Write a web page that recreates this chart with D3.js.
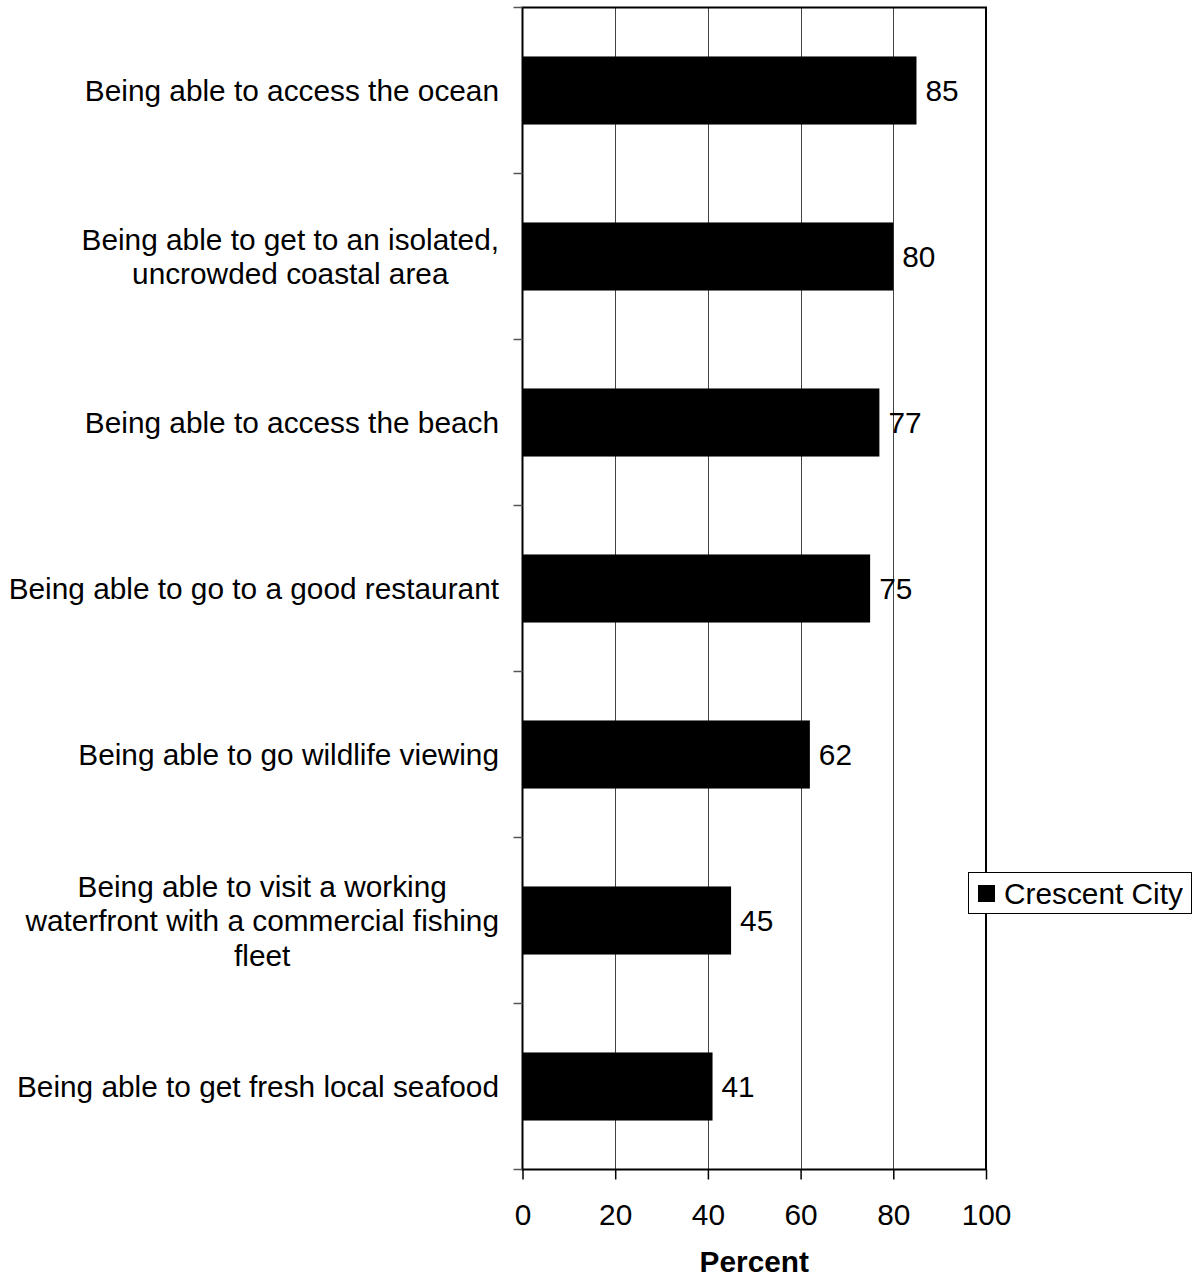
<!DOCTYPE html>
<html><head><meta charset="utf-8">
<script src="https://cdn.jsdelivr.net/npm/d3@7"></script>
<style>body{margin:0;background:#fff}svg{display:block}text{font-family:"Liberation Sans",Arial,sans-serif;fill:#000}</style>
</head><body>
<script>
const categories = [
  ["Being able to access the ocean"],
  ["Being able to get to an isolated,", "uncrowded coastal area"],
  ["Being able to access the beach"],
  ["Being able to go to a good restaurant"],
  ["Being able to go wildlife viewing"],
  ["Being able to visit a working", "waterfront with a commercial fishing", "fleet"],
  ["Being able to get fresh local seafood"]
];
const values = [85, 80, 77, 75, 62, 45, 41];
const xTicks = [0, 20, 40, 60, 80, 100];
const seriesName = "Crescent City";
const axisTitle = "Percent";

const W = 1198, H = 1278;
const L = 522.5, R = 986, T = 7.5, B = 1169.5;
const FS = 29.8;

const svg = d3.select("body").append("svg").attr("width", W).attr("height", H);
const x = d3.scaleLinear().domain([0, 100]).range([L, R]);
const y = d3.scaleBand().domain(d3.range(categories.length)).range([T, B]).paddingInner(0.59).paddingOuter(0.295);

// gridlines
svg.append("g").selectAll("line").data(xTicks.filter(d => d > 0 && d < 100)).join("line")
  .attr("x1", d => Math.round(x(d)) + 0.5).attr("x2", d => Math.round(x(d)) + 0.5)
  .attr("y1", T).attr("y2", B).attr("stroke", "#444").attr("stroke-width", 1);

// bars
svg.append("g").selectAll("rect").data(values).join("rect")
  .attr("x", x(0)).attr("y", (d, i) => y(i)).attr("width", d => x(d) - x(0)).attr("height", y.bandwidth())
  .attr("fill", "#000");

// plot frame
svg.append("rect").attr("x", L).attr("y", T).attr("width", R - L).attr("height", B - T)
  .attr("fill", "none").attr("stroke", "#000").attr("stroke-width", 2);

// y-axis ticks at band boundaries
const yBounds = d3.range(categories.length + 1).map(i => i === categories.length ? B : y(i) - y.step() * y.paddingInner() / 2);
svg.append("g").selectAll("line").data(yBounds).join("line")
  .attr("x1", L - 9).attr("x2", L).attr("y1", d => d).attr("y2", d => d)
  .attr("stroke", "#555").attr("stroke-width", 1.5);

// x axis
const xAxis = d3.axisBottom(x).tickValues(xTicks).tickSize(10).tickPadding(24).tickFormat(d3.format("d"));
const gx = svg.append("g").attr("transform", `translate(0,${B})`).call(xAxis);
gx.select(".domain").remove();
gx.selectAll(".tick line").attr("stroke", "#000").attr("stroke-width", 1.5);
gx.selectAll(".tick text").attr("font-size", FS).attr("font-family", '"Liberation Sans",Arial,sans-serif').attr("fill", "#000");

// axis title
svg.append("text").attr("x", (L + R) / 2).attr("y", 1272).attr("text-anchor", "middle")
  .attr("font-size", FS).attr("font-weight", "bold").text(axisTitle);

// value labels
svg.append("g").selectAll("text").data(values).join("text")
  .attr("x", d => x(d) + 9).attr("y", (d, i) => y(i) + y.bandwidth() / 2 + 10.5)
  .attr("font-size", FS).text(d => d);

// category labels (multi-line, centered block, right-aligned to axis)
const lh = 34.5;
categories.forEach((lines, i) => {
  const g = svg.append("g");
  const cy = y(i) + y.bandwidth() / 2;
  const texts = lines.map((ln, j) => g.append("text").attr("font-size", FS)
    .attr("y", cy + 10.5 + (j - (lines.length - 1) / 2) * lh).text(ln));
  const maxW = d3.max(texts, t => t.node().getComputedTextLength());
  const cx = 499 - maxW / 2;
  texts.forEach(t => t.attr("x", cx).attr("text-anchor", "middle"));
});

// legend
const lg = svg.append("g");
lg.append("rect").attr("x", 968.5).attr("y", 872.5).attr("width", 223).attr("height", 41)
  .attr("fill", "#fff").attr("stroke", "#000").attr("stroke-width", 1);
lg.append("rect").attr("x", 978).attr("y", 885).attr("width", 17).attr("height", 17).attr("fill", "#000");
lg.append("text").attr("x", 1004).attr("y", 904).attr("font-size", FS).text(seriesName);
</script>
</body></html>
